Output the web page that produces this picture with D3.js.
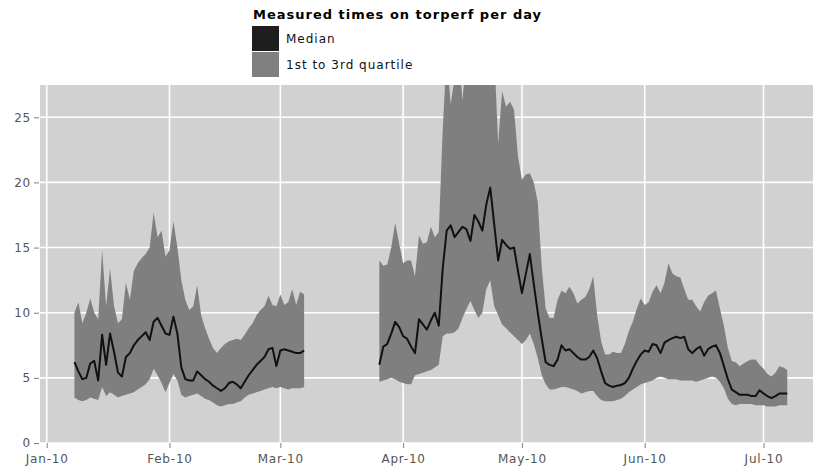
<!DOCTYPE html>
<html>
<head>
<meta charset="utf-8">
<script src="https://cdnjs.cloudflare.com/ajax/libs/d3/7.8.5/d3.min.js"></script>
<style>
  body { margin: 0; background: #fff; }
  svg text { font-family: "DejaVu Sans", sans-serif; }
</style>
</head>
<body>
<div id="chart"></div>
<script>
// torperf measurements, one value per day (seconds)
// first run: 2010-01-08 .. 2010-03-07
var firstStart = "2010-01-08";
var firstMedian = [6.2, 5.5, 4.9, 5.0, 6.1, 6.3, 4.8, 8.3, 6.0, 8.4,
  7.0, 5.4, 5.1, 6.6, 6.9, 7.5, 7.9, 8.2, 8.5, 7.9,
  9.3, 9.6, 9.0, 8.4, 8.3, 9.7, 8.4, 5.8, 4.9, 4.8,
  4.8, 5.5, 5.2, 4.9, 4.7, 4.4, 4.2, 4.0, 4.2, 4.6,
  4.7, 4.5, 4.2, 4.7, 5.2, 5.6, 6.0, 6.3, 6.6, 7.2,
  7.3, 5.9, 7.1, 7.2, 7.1, 7.0, 6.9, 6.9, 7.1];
var firstQ1 = [3.5, 3.3, 3.2, 3.3, 3.5, 3.4, 3.3, 4.3, 3.6, 3.9,
  3.7, 3.5, 3.6, 3.7, 3.8, 3.9, 4.1, 4.3, 4.5, 4.9,
  5.7, 5.2, 4.6, 3.9, 4.6, 5.3, 4.8, 3.7, 3.5, 3.6,
  3.7, 3.8, 3.6, 3.4, 3.3, 3.1, 2.9, 2.8, 2.9, 3.0,
  3.0, 3.1, 3.2, 3.5, 3.7, 3.8, 3.9, 4.0, 4.1, 4.2,
  4.3, 4.2, 4.3, 4.2, 4.1, 4.2, 4.2, 4.2, 4.3];
var firstQ3 = [10.0, 10.8, 9.2, 10.0, 11.1, 10.0, 9.5, 14.8, 10.5, 13.4,
  10.5, 9.2, 9.5, 12.3, 11.0, 13.2, 13.8, 14.2, 14.5, 15.0,
  17.7, 15.8, 16.3, 14.3, 14.8, 17.0, 15.0, 12.5, 11.0, 10.2,
  10.5, 12.1, 9.8, 8.8, 8.0, 7.3, 6.9, 7.3, 7.6, 7.8,
  7.9, 8.0, 7.9, 8.3, 8.8, 9.2, 9.8, 10.2, 10.5, 11.3,
  10.6, 10.5, 11.4, 10.6, 10.8, 11.8, 10.6, 11.6, 11.4];

// second run: 2010-03-26 .. 2010-07-07
var secondStart = "2010-03-26";
var secondMedian = [6.0, 7.4, 7.6, 8.4, 9.3, 8.9, 8.2, 8.0, 7.4, 6.9,
  9.5, 9.1, 8.7, 9.4, 10.0, 9.0, 13.4, 16.3, 16.7, 15.8,
  16.2, 16.6, 16.4, 15.5, 17.5, 17.0, 16.3, 18.3, 19.6, 16.8,
  14.0, 15.6, 15.2, 14.9, 15.0, 13.2, 11.5, 13.0, 14.5, 12.2,
  10.0, 8.0, 6.2, 6.0, 5.9, 6.4, 7.5, 7.1, 7.2, 6.9,
  6.6, 6.4, 6.4, 6.6, 7.1, 6.5, 5.5, 4.6, 4.4, 4.3,
  4.4, 4.45, 4.6, 5.0, 5.7, 6.3, 6.8, 7.1, 7.0, 7.6,
  7.5, 6.9, 7.7, 7.9, 8.05, 8.15, 8.05, 8.15, 7.2, 6.9,
  7.2, 7.4, 6.7, 7.2, 7.4, 7.5, 6.9, 5.9, 4.9, 4.1,
  3.9, 3.7, 3.7, 3.7, 3.6, 3.6, 4.05, 3.8, 3.6, 3.45,
  3.6, 3.8, 3.8, 3.8];
var secondQ1 = [4.7, 4.8, 4.9, 5.0, 4.9, 4.7, 4.6, 4.5, 4.5, 5.2,
  5.3, 5.4, 5.5, 5.6, 5.8, 6.0, 8.2, 8.4, 8.4, 8.5,
  8.8, 9.6, 10.3, 10.9, 10.2, 9.6, 10.0, 11.8, 12.5, 10.5,
  9.8, 9.1, 8.8, 8.5, 8.2, 7.9, 7.6, 7.9, 8.4, 7.6,
  6.5, 5.2, 4.5, 4.1, 4.1, 4.2, 4.3, 4.3, 4.2, 4.1,
  4.0, 3.8, 3.9, 4.0, 4.0, 3.6, 3.3, 3.2, 3.2, 3.2,
  3.3, 3.4, 3.6, 3.9, 4.1, 4.3, 4.5, 4.6, 4.7, 4.8,
  5.0, 5.1, 5.0, 4.9, 4.9, 4.9, 4.8, 4.8, 4.8, 4.8,
  4.7, 4.8, 4.9, 5.0, 5.1, 5.0, 4.7, 4.2, 3.4, 3.0,
  2.9, 3.0, 3.0, 3.0, 3.0, 2.9, 2.9, 2.9, 2.8, 2.8,
  2.8, 2.9, 2.9, 2.9];
var secondQ3 = [14.0, 13.6, 13.7, 15.0, 16.9, 15.3, 13.8, 14.0, 14.0, 12.8,
  15.9, 15.3, 15.4, 16.6, 15.8, 16.2, 24.0, 30.0, 26.0, 28.0,
  30.0, 26.3, 30.0, 30.0, 30.0, 30.0, 30.0, 30.0, 30.0, 30.0,
  23.0, 27.0, 25.8, 26.2, 25.6, 22.0, 20.2, 20.6, 20.7, 20.0,
  18.5, 13.5, 10.3, 9.6, 9.6, 11.0, 11.7, 11.5, 12.0, 11.5,
  10.7, 11.0, 11.2, 11.8, 12.8, 9.8, 7.8, 6.8, 6.8, 7.0,
  6.9, 6.9, 7.6, 8.6, 9.3, 10.3, 11.1, 10.6, 10.8, 11.6,
  12.1, 11.5, 12.3, 13.8, 13.0, 12.8, 12.7, 11.8, 11.0, 11.0,
  10.5, 10.1, 10.8, 11.3, 11.5, 11.7, 10.3, 9.0, 7.3, 6.3,
  6.2, 5.9, 6.1, 6.3, 6.4, 6.4, 6.0, 5.7, 5.3, 5.1,
  5.4, 5.9, 5.8, 5.6];

var monthTicks = ["2010-01-01", "2010-02-01", "2010-03-01", "2010-04-01",
  "2010-05-01", "2010-06-01", "2010-07-01"];
var monthLabels = ["Jan-10", "Feb-10", "Mar-10", "Apr-10", "May-10", "Jun-10", "Jul-10"];
var valueTicks = [0, 5, 10, 15, 20, 25];
var legendTitle = "Measured times on torperf per day";
var legendLabels = ["Median", "1st to 3rd quartile"];
var legendColors = ["#1e1e1e", "#808080"];

var width = 816;
var height = 470;
var panel = { left: 40, right: 813, top: 85, bottom: 443 };

var parseDay = d3.utcParse("%Y-%m-%d");

function makeRows(start, median, q1, q3)
{
  var t0 = parseDay(start);
  return median.map(function(m, i)
  {
    return { date: d3.utcDay.offset(t0, i), median: m, q1: q1[i], q3: q3[i] };
  });
}

var runs = [
  makeRows(firstStart, firstMedian, firstQ1, firstQ3),
  makeRows(secondStart, secondMedian, secondQ1, secondQ3)
];

var x = d3.scaleUtc()
  .domain([parseDay(monthTicks[0]), parseDay(monthTicks[6])])
  .range([46.7, 763.5]);

var y = d3.scaleLinear()
  .domain([0, 27.5])
  .range([panel.bottom, panel.top - 0.3]);

var svg = d3.select("#chart").append("svg")
  .attr("width", width)
  .attr("height", height);

svg.append("defs").append("clipPath")
  .attr("id", "panel-clip")
  .append("rect")
  .attr("x", panel.left)
  .attr("y", panel.top)
  .attr("width", panel.right - panel.left)
  .attr("height", panel.bottom - panel.top);

// panel background + grid
svg.append("rect")
  .attr("x", panel.left)
  .attr("y", panel.top)
  .attr("width", panel.right - panel.left)
  .attr("height", panel.bottom - panel.top)
  .attr("fill", "#d1d1d1");

var grid = svg.append("g").attr("clip-path", "url(#panel-clip)");

grid.selectAll(".hgrid")
  .data(valueTicks)
  .enter().append("line")
  .attr("class", "hgrid")
  .attr("x1", panel.left)
  .attr("x2", panel.right)
  .attr("y1", function(d) { return y(d); })
  .attr("y2", function(d) { return y(d); })
  .attr("stroke", "#fff")
  .attr("stroke-width", 1.6);

grid.selectAll(".vgrid")
  .data(monthTicks)
  .enter().append("line")
  .attr("class", "vgrid")
  .attr("x1", function(d) { return x(parseDay(d)); })
  .attr("x2", function(d) { return x(parseDay(d)); })
  .attr("y1", panel.top)
  .attr("y2", panel.bottom)
  .attr("stroke", "#fff")
  .attr("stroke-width", 1.6);

// quartile band and median line
var band = d3.area()
  .x(function(d) { return x(d.date); })
  .y0(function(d) { return y(d.q1); })
  .y1(function(d) { return y(d.q3); });

var medianLine = d3.line()
  .x(function(d) { return x(d.date); })
  .y(function(d) { return y(d.median); });

var plot = svg.append("g").attr("clip-path", "url(#panel-clip)");

plot.selectAll(".band")
  .data(runs)
  .enter().append("path")
  .attr("class", "band")
  .attr("d", band)
  .attr("fill", "#7f7f7f");

plot.selectAll(".median")
  .data(runs)
  .enter().append("path")
  .attr("class", "median")
  .attr("d", medianLine)
  .attr("fill", "none")
  .attr("stroke", "#111")
  .attr("stroke-width", 2)
  .attr("stroke-linejoin", "round");

// axes
var yAxis = d3.axisLeft(y)
  .tickValues(valueTicks)
  .tickSize(5)
  .tickPadding(3);

var xAxis = d3.axisBottom(x)
  .tickValues(monthTicks.map(parseDay))
  .tickFormat(function(d, i) { return monthLabels[i]; })
  .tickSize(5)
  .tickPadding(6);

var gy = svg.append("g")
  .attr("transform", "translate(" + (panel.left - 1) + ",0)")
  .call(yAxis);

var gx = svg.append("g")
  .attr("transform", "translate(0," + panel.bottom + ")")
  .call(xAxis);

[gx, gy].forEach(function(g)
{
  g.select(".domain").remove();
  g.selectAll(".tick line").attr("stroke", "#7f7f7f");
  g.selectAll(".tick text")
    .attr("fill", "#555")
    .style("font-size", "12px")
    .style("letter-spacing", "0.8px")
    .style("font-family", "'DejaVu Sans', sans-serif");
});

// legend
var legend = svg.append("g");

legend.append("text")
  .attr("x", 253)
  .attr("y", 19)
  .style("font-size", "13px")
  .style("font-weight", "bold")
  .style("letter-spacing", "1px")
  .attr("fill", "#000")
  .text(legendTitle);

legend.selectAll(".key")
  .data(legendLabels)
  .enter().append("rect")
  .attr("class", "key")
  .attr("x", 252)
  .attr("y", function(d, i) { return 26 + i * 26; })
  .attr("width", 27)
  .attr("height", 25)
  .attr("fill", function(d, i) { return legendColors[i]; });

legend.selectAll(".key-label")
  .data(legendLabels)
  .enter().append("text")
  .attr("class", "key-label")
  .attr("x", 286)
  .attr("y", function(d, i) { return 43 + i * 26; })
  .style("font-size", "12px")
  .style("letter-spacing", "1px")
  .attr("fill", "#111")
  .text(function(d) { return d; });
</script>
</body>
</html>
